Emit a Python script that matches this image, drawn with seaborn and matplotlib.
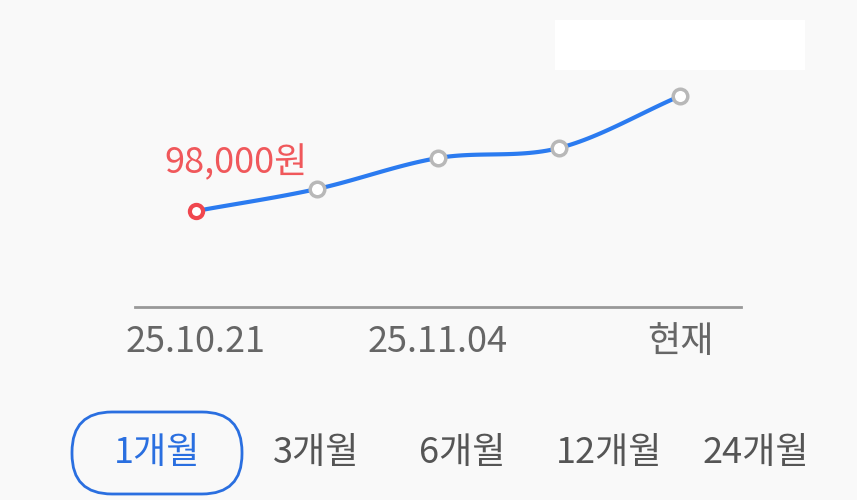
import numpy as np
import matplotlib
matplotlib.use("Agg")
import matplotlib.pyplot as plt
import seaborn as sns
from matplotlib.patches import FancyBboxPatch, Rectangle
from matplotlib.transforms import IdentityTransform

sns.set_style("white")
plt.rcParams['font.family'] = ['Noto Sans CJK KR', 'DejaVu Sans']

dates = ["25.10.21", "", "25.11.04", "", "현재"]
prices = [98000, 120700, 152600, 162900, 216500]
periods = ["1개월", "3개월", "6개월", "12개월", "24개월"]
bg = "#f9f9f9"

fig = plt.figure(figsize=(8.57, 5), dpi=100, facecolor=bg)
ax = fig.add_axes([135/857, 1-307/500, (741-135)/857, (307-20)/500])
ax.set_facecolor(bg)
x = np.arange(len(prices))
ax.set_xlim(-61/121, 4 + 61/121)
ax.set_ylim(98000 - 96*1030.4, 98000 + 191*1030.4)

p = np.array(prices, float)
xs, ys = [], []
pp = np.concatenate([[2*p[0]-p[1]], p, [2*p[-1]-p[-2]]])
for i in range(len(p)-1):
    t = np.linspace(0, 1, 30)
    p0, p1, p2, p3 = pp[i], pp[i+1], pp[i+2], pp[i+3]
    yv = 0.5*((2*p1) + (-p0+p2)*t + (2*p0-5*p1+4*p2-p3)*t**2 + (-p0+3*p1-3*p2+p3)*t**3)
    xs.extend(i + t); ys.extend(yv)
sns.lineplot(x=xs, y=ys, ax=ax, color="#2b7bf0", linewidth=3, sort=False)
ax.scatter(x[1:], prices[1:], s=110, facecolor="white", edgecolor="#b8b8b8", linewidth=2.5, zorder=5)
ax.scatter(x[:1], prices[:1], s=90, facecolor="white", edgecolor="#f0474f", linewidth=3, zorder=5)

# white label box for last value
fig.patches.append(Rectangle((555, 500-70), 250, 50, transform=IdentityTransform(),
                             facecolor="white", edgecolor="none"))
ax.text(x[0]+0.33, prices[0] + 48*1030.4, f"{prices[0]:,}원", color="#f0585b",
        fontsize=26, ha="center", va="center")
ax.text(x[-1]-0.33, prices[-1] + 50*1030.4, f"{prices[-1]:,}원", color="#2b8ad0",
        fontsize=26, ha="center", va="center", zorder=6)

for s in ["top", "left", "right"]:
    ax.spines[s].set_visible(False)
ax.spines["bottom"].set_color("#999999")
ax.spines["bottom"].set_linewidth(2)
ax.set_yticks([])
ax.set_xticks([0, 2, 4])
ax.set_xticklabels([dates[0], dates[2], dates[4]], fontsize=26, color="#666666")
ax.tick_params(axis="x", length=0, pad=12)

cx = [157, 316, 462, 609, 756]
for i, (lab, c) in enumerate(zip(periods, cx)):
    fig.text(c/857, 1-453/500, lab, fontsize=26, ha="center", va="center",
             color="#2a6fe0" if i == 0 else "#555555")
box = FancyBboxPatch((72, 500-494), 170, 82,
                     boxstyle="round,pad=0,rounding_size=40", transform=IdentityTransform(),
                     facecolor="none", edgecolor="#2a6fe0", linewidth=2)
fig.patches.append(box)

fig.savefig("out.png", dpi=100, facecolor=bg)
